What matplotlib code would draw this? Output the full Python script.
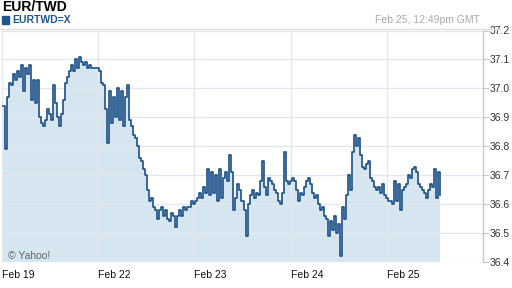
import numpy as np
import matplotlib
matplotlib.use("Agg")
import matplotlib.pyplot as plt

plt.rcParams['font.family'] = ['Liberation Sans', 'DejaVu Sans']

title = "EUR/TWD"
symbol = "EURTWD=X"
timestamp = "Feb 25, 12:49pm GMT"
day_labels = ["Feb 19", "Feb 22", "Feb 23", "Feb 24", "Feb 25"]
y_ticks = [36.4, 36.5, 36.6, 36.7, 36.8, 36.9, 37.0, 37.1, 37.2]

# 30-minute samples, trading days stitched together (weekend removed)
rate = [
    36.94, 36.79, 36.97, 37.02, 37.01, 37.05, 37.03, 37.06, 37.04, 37.08,
    36.99, 37.07, 37.05, 37.08, 36.96, 37.03, 36.95, 37.03, 36.90, 36.88,
    36.87, 36.89, 36.93, 36.91, 36.89, 37.01, 36.95, 36.90, 36.87, 36.91,
    36.96, 37.02, 37.04, 37.06, 37.08, 37.06, 37.10, 37.07, 37.11, 37.09,
    37.08, 37.09, 37.07, 37.08, 37.07, 37.07, 37.07, 37.07, 37.06, 37.02,
    37.01, 36.93, 36.81, 36.99, 36.88, 36.97, 36.90, 37.00, 36.89, 36.99,
    36.87, 36.97, 37.01, 36.89, 36.87, 36.84, 36.83, 36.80, 36.76, 36.75,
    36.72, 36.70, 36.65, 36.61, 36.62, 36.59, 36.58, 36.55, 36.58, 36.59,
    36.56, 36.58, 36.55, 36.54, 36.57, 36.56, 36.52, 36.56, 36.58, 36.56,
    36.59, 36.58, 36.59, 36.59, 36.61, 36.60, 36.61, 36.62, 36.64, 36.62,
    36.66, 36.64, 36.72, 36.63, 36.71, 36.64, 36.70, 36.61, 36.72, 36.62,
    36.69, 36.71, 36.68, 36.77, 36.71, 36.58, 36.62, 36.67, 36.65, 36.61,
    36.58, 36.49, 36.60, 36.63, 36.65, 36.62, 36.64, 36.63, 36.68, 36.75,
    36.66, 36.63, 36.69, 36.68, 36.67, 36.65, 36.64, 36.61, 36.60, 36.64,
    36.78, 36.68, 36.67, 36.68, 36.69, 36.68, 36.65, 36.61, 36.64, 36.63,
    36.66, 36.68, 36.69, 36.67, 36.64, 36.62, 36.63, 36.60, 36.58, 36.59,
    36.56, 36.55, 36.49, 36.54, 36.51, 36.56, 36.50, 36.53, 36.42, 36.59,
    36.55, 36.63, 36.70, 36.65, 36.78, 36.84, 36.80, 36.83, 36.77, 36.73,
    36.72, 36.74, 36.75, 36.69, 36.68, 36.66, 36.65, 36.66, 36.64, 36.67,
    36.63, 36.62, 36.61, 36.61, 36.60, 36.68, 36.61, 36.67, 36.58, 36.65,
    36.66, 36.67, 36.70, 36.69, 36.72, 36.73, 36.71, 36.67, 36.66, 36.65,
    36.64, 36.62, 36.65, 36.67, 36.66, 36.72, 36.62, 36.71, 36.63,
]

hours = np.arange(len(rate)) * 0.5 + 0.25
day_starts = [0, 24, 48, 72, 96]

line_col = "#1a4f88"
fill_col = "#d6e6f1"
grid_col = "#e4e7ee"
text_col = "#333333"

fig = plt.figure(figsize=(5.12, 2.88), dpi=100)
ax = fig.add_axes([2 / 512, 1 - 262 / 288, 481 / 512, (262 - 30.5) / 288])

ax.fill_between(hours, rate, 36.4, step="post", color=fill_col, lw=0, zorder=1)
ax.step(hours, rate, where="post", color=line_col, lw=1.2, zorder=3)

ax.set_xlim(0, 120)
ax.set_ylim(36.4, 37.2)
ax.set_yticks(y_ticks)
ax.set_yticklabels([f"{v:.1f}" for v in y_ticks])
ax.set_xticks(day_starts)
ax.set_xticklabels(day_labels, ha="left")
ax.yaxis.tick_right()
ax.tick_params(axis="y", length=4, color="#c8c8c8", labelsize=7.5,
               labelcolor=text_col, pad=1)
ax.tick_params(axis="x", length=0, labelsize=7.5, labelcolor="#111111", pad=6)
ax.grid(True, color=grid_col, lw=1, zorder=2)
ax.set_axisbelow("line")
for s in ["top", "left", "bottom"]:
    ax.spines[s].set_visible(False)
ax.spines["right"].set_color("#c8c8c8")
ax.spines["right"].set_lw(1)

ax.text(0.012, 0.004, "\u00a9 Yahoo!", transform=ax.transAxes, fontsize=7.5,
        color="#666666", ha="left", va="bottom", zorder=4)

fig.text(2 / 512, 1 - 7 / 288, title, fontsize=10, fontweight="bold",
         color="#000000", ha="left", va="center")
fig.patches.append(plt.Rectangle((2 / 512, 1 - 24 / 288), 7 / 512, 8 / 288,
                                 transform=fig.transFigure, color="#1f5591"))
fig.text(12 / 512, 1 - 20 / 288, symbol, fontsize=7.5, fontweight="bold",
         color="#1f5591", ha="left", va="center")
fig.text(480 / 512, 1 - 20 / 288, timestamp, fontsize=7.5,
         color="#aaaaaa", ha="right", va="center")
fig.add_artist(plt.Line2D([0, 500 / 512], [1 - 29 / 288, 1 - 29 / 288],
                          transform=fig.transFigure, color="#dddddd", lw=1))

fig.savefig("out.png", dpi=100)
